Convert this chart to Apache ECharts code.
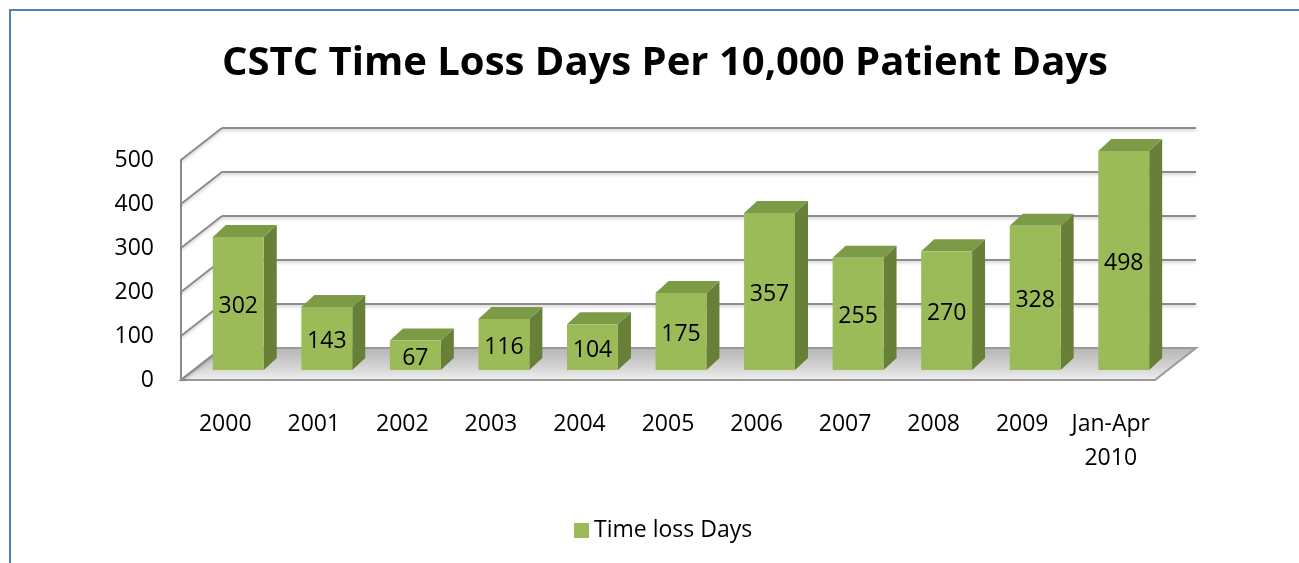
<!DOCTYPE html>
<html>
<head>
<meta charset="utf-8">
<script src="https://cdn.jsdelivr.net/npm/echarts@6/dist/echarts.min.js"></script>
<style>
  html, body { margin: 0; padding: 0; background: #fff; }
  #chart { width: 1299px; height: 563px; }
</style>
</head>
<body>
<div id="chart"></div>
<script>
// data
const categories = ['2000', '2001', '2002', '2003', '2004', '2005', '2006', '2007', '2008', '2009', 'Jan-Apr\n2010'];
const timeLossDays = [302, 143, 67, 116, 104, 175, 357, 255, 270, 328, 498];
const yTicks = [0, 100, 200, 300, 400, 500];

const FONT = '"Open Sans", Lato, sans-serif';
// 3d look: wall depth and bar depth (px)
const WALL_DX = 41;
const WALL_DY = -32;
const BAR_SHIFT_X = 13;
const BAR_SHIFT_Y = -10;
const BAR_DX = 13;
const BAR_DY = -12;

const myChart = echarts.init(document.getElementById('chart'));

const lineStyle = {
  stroke: '#8c8c8c',
  lineWidth: 2,
  shadowColor: 'rgba(0,0,0,0.2)',
  shadowBlur: 3,
  shadowOffsetY: 2,
};

const option = {
  animation: false,
  backgroundColor: '#fff',
  title: {
    text: 'CSTC Time Loss Days Per 10,000 Patient Days',
    left: 660,
    top: 39,
    textAlign: 'center',
    textStyle: {
      color: '#000',
      fontSize: 40,
      fontWeight: 'bold',
      fontFamily: FONT,
    },
  },
  legend: {
    data: ['Time loss Days'],
    left: 569,
    top: 514,
    icon: 'rect',
    itemWidth: 15,
    itemHeight: 15,
    itemGap: 7,
    textStyle: { color: '#000', fontSize: 23, fontFamily: FONT },
  },
  grid: {
    left: 181,
    right: 144,
    top: 160,
    bottom: 183,
    containLabel: false,
  },
  xAxis: {
    type: 'category',
    data: categories,
    axisLine: { show: false },
    axisTick: { show: false },
    axisLabel: {
      interval: 0,
      color: '#000',
      fontSize: 23,
      fontFamily: FONT,
      lineHeight: 34,
      margin: 27,
    },
  },
  yAxis: {
    type: 'value',
    min: 0,
    max: 500,
    interval: 100,
    axisLine: { show: true, lineStyle: { color: '#8c8c8c', width: 2 } },
    axisTick: { show: false },
    splitLine: { show: false },
    axisLabel: { color: '#000', fontSize: 23, fontFamily: FONT, margin: 27, padding: [6, 0, 0, 0] },
  },
  graphic: [
    { type: 'line', shape: { x1: 9, y1: 10, x2: 1299, y2: 10 }, style: { stroke: '#4f81bd', lineWidth: 2 } },
    { type: 'line', shape: { x1: 10, y1: 10, x2: 10, y2: 563 }, style: { stroke: '#4f81bd', lineWidth: 2 } },
  ],
  series: [
    {
      // floor
      type: 'custom',
      z: 1,
      silent: true,
      data: [[0]],
      renderItem(params, api) {
        const bw = api.size([1, 0])[0];
        const p0 = api.coord([0, 0]);
        const p1 = api.coord([categories.length - 1, 0]);
        const xl = p0[0] - bw / 2;
        const xr = p1[0] + bw / 2;
        const y = p0[1];
        return {
          type: 'polygon',
          shape: {
            points: [[xl, y], [xr, y], [xr + WALL_DX, y + WALL_DY], [xl + WALL_DX, y + WALL_DY]],
          },
          style: {
            fill: new echarts.graphic.LinearGradient(0, 0, 0, 1, [
              { offset: 0, color: '#b4b4b4' },
              { offset: 0.6, color: '#d4d4d4' },
              { offset: 1, color: '#f2f2f2' },
            ]),
            stroke: '#9a9a9a',
            lineWidth: 2,
          },
        };
      },
    },
    {
      // side wall + back wall grid lines
      type: 'custom',
      z: 1,
      silent: true,
      data: yTicks.map(v => [v]),
      renderItem(params, api) {
        const v = api.value(0);
        const bw = api.size([1, 0])[0];
        const p0 = api.coord([0, v]);
        const p1 = api.coord([categories.length - 1, v]);
        const xl = p0[0] - bw / 2;
        const xr = p1[0] + bw / 2;
        const y = p0[1];
        const children = [{
          type: 'line',
          shape: { x1: xl, y1: y, x2: xl + WALL_DX, y2: y + WALL_DY },
          style: lineStyle,
        }];
        if (v > 0) {
          children.push({
            type: 'line',
            shape: { x1: xl + WALL_DX, y1: y + WALL_DY, x2: xr + WALL_DX, y2: y + WALL_DY },
            style: lineStyle,
          });
        }
        return { type: 'group', children };
      },
    },
    {
      name: 'Time loss Days',
      type: 'custom',
      z: 3,
      itemStyle: { color: '#9bbb59' },
      data: timeLossDays.map((v, i) => [i, v]),
      renderItem(params, api) {
        const i = api.value(0);
        const v = api.value(1);
        const base = api.coord([i, 0]);
        const top = api.coord([i, v]);
        const bw = api.size([1, 0])[0] * 0.575;
        const xl = base[0] + BAR_SHIFT_X - bw / 2;
        const xr = xl + bw;
        const yb = base[1] + BAR_SHIFT_Y;
        const yt = top[1] + BAR_SHIFT_Y;
        return {
          type: 'group',
          children: [
            {
              type: 'polygon',
              shape: { points: [[xr, yt], [xr + BAR_DX, yt + BAR_DY], [xr + BAR_DX, yb + BAR_DY], [xr, yb]] },
              style: { fill: '#677f37' },
            },
            {
              type: 'polygon',
              shape: { points: [[xl, yt], [xr, yt], [xr + BAR_DX, yt + BAR_DY], [xl + BAR_DX, yt + BAR_DY]] },
              style: { fill: '#7d9b46' },
            },
            {
              type: 'rect',
              shape: { x: xl, y: yt, width: bw, height: yb - yt },
              style: { fill: '#9bbb59' },
            },
            {
              type: 'text',
              style: {
                text: String(v),
                x: (xl + xr) / 2,
                y: (yt + yb) / 2 + 3,
                align: 'center',
                verticalAlign: 'middle',
                fill: '#000',
                fontSize: 23,
                fontFamily: FONT,
              },
            },
          ],
        };
      },
    },
  ],
};

myChart.setOption(option);
</script>
</body>
</html>
